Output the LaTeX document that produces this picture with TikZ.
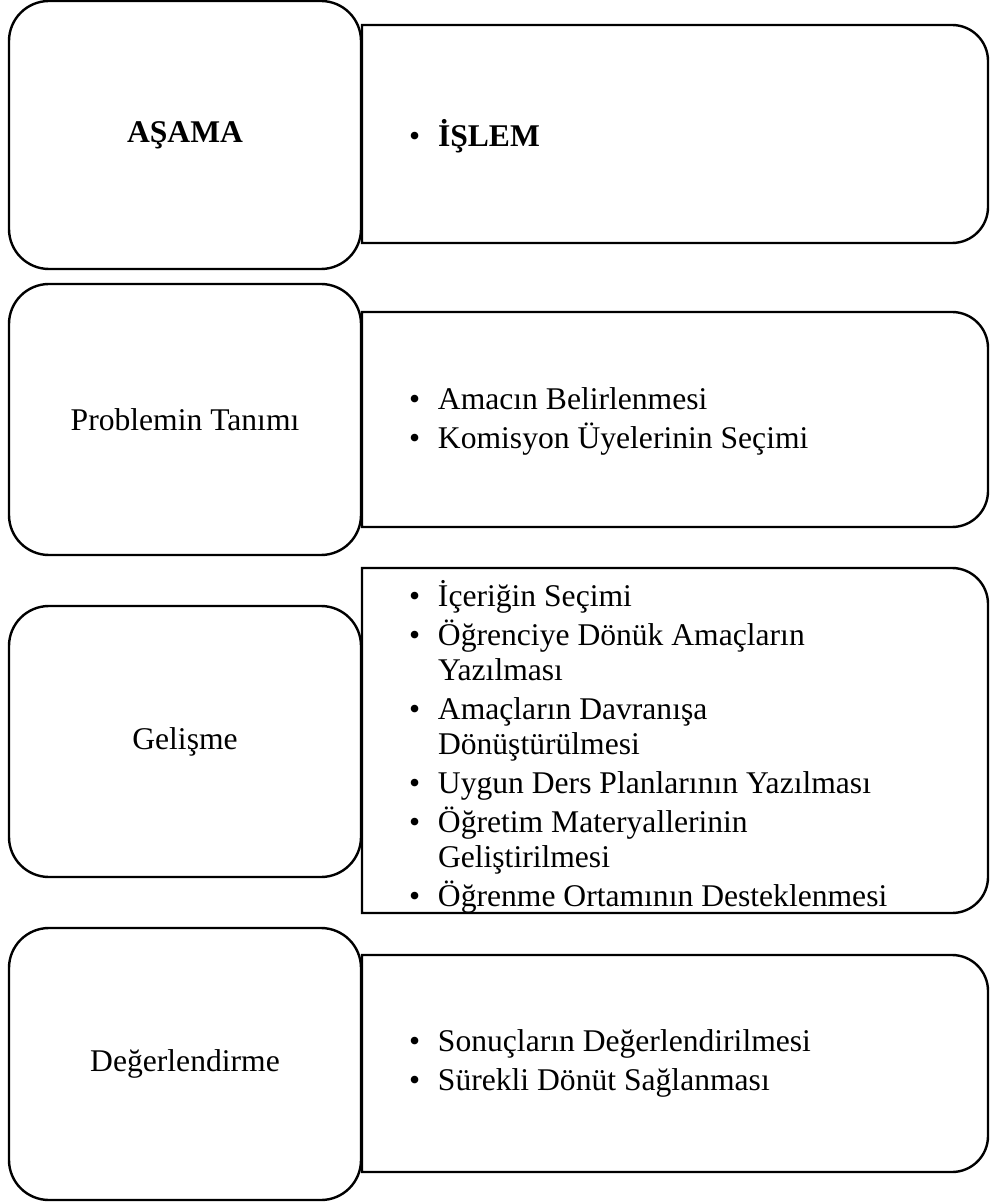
\documentclass[tikz,border=0pt]{standalone}
\usepackage{fontspec}
\setmainfont{Liberation Serif}
\newlength{\hangw}\setlength{\hangw}{14.5pt}
\newcommand{\bitem}[1]{\par\hangindent=\hangw\hangafter=1\noindent\makebox[\hangw][l]{\textbullet}#1}
\newenvironment{itemblock}{\begin{minipage}[t]{280pt}\raggedright\setlength{\parskip}{2pt}\setlength{\parindent}{0pt}}{\end{minipage}}
\begin{document}
\begin{tikzpicture}[x=0.5pt,y=0.5pt,
  font=\fontsize{15.8}{17.5}\selectfont, line width=1.2pt,
  stage/.style={draw, rounded corners=20pt, minimum width=176pt, minimum height=#1, inner sep=0pt, outer sep=0pt},
  panel/.style={minimum width=313pt, minimum height=#1, inner sep=0pt, outer sep=0pt},
  items/.style={anchor=base west, inner sep=0pt, outer sep=0pt},
  panelline/.style={line width=1.2pt}]
\useasboundingbox (0,0) rectangle (993,-1202);
% stage boxes
\node[stage=134pt] (s1) at (185,-135) {\textbf{AŞAMA}};
\node[stage=135.5pt] (s2) at (185,-419.5) {Problemin Tanımı};
\node[stage=135.5pt] (s3) at (185,-741.5) {Gelişme};
\node[stage=136pt] (s4) at (185,-1064) {Değerlendirme};
% panels
\node[panel=109pt] (p1) at (675,-134) {};
\node[panel=107.5pt] (p2) at (675,-419.5) {};
\node[panel=172.5pt] (p3) at (675,-740.5) {};
\node[panel=108.5pt] (p4) at (675,-1063.5) {};
\foreach \p in {p1,p2,p3,p4}
  \draw[panelline] (\p.north west) -- ([xshift=-18pt]\p.north east)
    arc[start angle=90,end angle=0,radius=18pt]
    -- ([yshift=18pt]\p.south east)
    arc[start angle=0,end angle=-90,radius=18pt]
    -- (\p.south west) -- cycle;
% panel texts
\node[items] (t1) at (409,-147) {\begin{itemblock}\bitem{\textbf{İŞLEM}}\end{itemblock}};
\node[items] (t2) at (409,-410) {\begin{itemblock}\bitem{Amacın Belirlenmesi}\bitem{Komisyon Üyelerinin Seçimi}\end{itemblock}};
\node[items] (t3) at (409,-606) {\begin{itemblock}\bitem{İçeriğin Seçimi}\bitem{Öğrenciye Dönük Amaçların\newline Yazılması}\bitem{Amaçların Davranışa\newline Dönüştürülmesi}\bitem{Uygun Ders Planlarının Yazılması}\bitem{Öğretim Materyallerinin\newline Geliştirilmesi}\bitem{Öğrenme Ortamının Desteklenmesi}\end{itemblock}};
\node[items] (t4) at (409,-1051) {\begin{itemblock}\bitem{Sonuçların Değerlendirilmesi}\bitem{Sürekli Dönüt Sağlanması}\end{itemblock}};
\end{tikzpicture}
\end{document}
